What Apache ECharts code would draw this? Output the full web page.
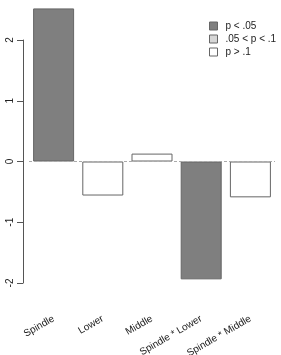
<!DOCTYPE html>
<html>
<head>
<meta charset="utf-8">
<script src="https://cdn.jsdelivr.net/npm/echarts@6/dist/echarts.min.js"></script>
<style>
  html, body { margin: 0; padding: 0; background: #fff; }
  #main { width: 281px; height: 355px; }
</style>
</head>
<body>
<div id="main"></div>
<script>
// effects per term
var categories = ['Spindle', 'Lower', 'Middle', 'Spindle * Lower', 'Spindle * Middle'];
var values = [2.52, -0.56, 0.13, -1.94, -0.59];
var levels = ['p < .05', 'p > .1', 'p > .1', 'p < .05', 'p > .1'];
var levelNames = ['p < .05', '.05 < p < .1', 'p > .1'];
var levelColors = ['#7f7f7f', '#d6d6d6', '#ffffff'];
var yTicks = [-2, -1, 0, 1, 2];

var font = 'Liberation Sans, Arial, sans-serif';

// one series per level, stacked so each bar sits on its own category
var series = [];
for (var k = 0; k < levelNames.length; k++) {
	var d = [];
	for (var i = 0; i < categories.length; i++) {
		d[i] = levels[i] == levelNames[k] ? values[i] : '-';
	}
	series.push({
		name: levelNames[k],
		type: 'bar',
		stack: 'all',
		data: d,
		barWidth: 41,
		clip: false,
		silent: true,
		itemStyle: { color: levelColors[k], borderColor: '#666', borderWidth: 1 }
	});
}
// dashed zero line
series[0].markLine = {
	silent: true,
	symbol: 'none',
	label: { show: false },
	lineStyle: { color: '#aaa', type: [3, 2], width: 1 },
	data: [{ yAxis: 0 }]
};

var myChart = echarts.init(document.getElementById('main'));
myChart.setOption({
	animation: false,
	backgroundColor: '#fff',
	textStyle: { fontFamily: font },
	legend: {
		orient: 'vertical',
		left: 204,
		top: 16,
		itemGap: 3,
		itemWidth: 8,
		itemHeight: 8,
		icon: 'rect',
		selectedMode: false,
		data: levelNames,
		textStyle: { fontSize: 10, color: '#222', fontFamily: font, padding: [0, 0, 0, 3] },
		itemStyle: { borderColor: '#666', borderWidth: 1 }
	},
	grid: { left: 29, right: 6, top: 40, bottom: 72, outerBoundsMode: 'none', containLabel: false },
	xAxis: {
		type: 'category',
		data: categories,
		axisLine: { show: false },
		axisTick: { show: false },
		axisLabel: { rotate: 30, margin: 35, fontSize: 10, color: '#222', fontFamily: font, interval: 0 }
	},
	yAxis: {
		type: 'value',
		min: yTicks[0],
		max: yTicks[yTicks.length - 1],
		interval: 1,
		offset: 6,
		splitLine: { show: false },
		axisLine: { show: true, lineStyle: { color: '#555' } },
		axisTick: { show: true, length: 6, lineStyle: { color: '#555' } },
		axisLabel: { rotate: 90, margin: 8, fontSize: 10, color: '#222', fontFamily: font }
	},
	series: series
});
</script>
</body>
</html>
